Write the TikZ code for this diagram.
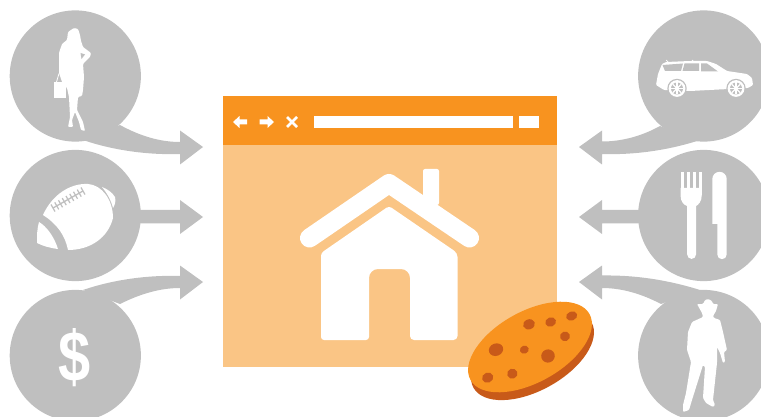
\documentclass[tikz,border=0pt]{standalone}
\usepackage{fontspec}
\usepackage{graphicx}
\setmainfont{Liberation Sans}
\definecolor{greyc}{HTML}{BFBFBF}
\definecolor{orangec}{HTML}{F8931F}
\definecolor{palec}{HTML}{FAC585}
\definecolor{darkc}{HTML}{C85A19}
\tikzset{
  greyfill/.style={fill=greyc,draw=none},
  icon/.style={fill=white,draw=none},
  softicon/.style={fill=white,draw=none,rounded corners=1pt},
  chip/.style={fill=darkc,draw=none},
}
\begin{document}
\begin{tikzpicture}[x=1pt,y=-1pt]
\useasboundingbox (0,0) rectangle (761,417);
\clip (0,0) rectangle (761,417);
% browser window
\fill[palec] (223,96) rectangle (557,367);
\fill[orangec] (223,96) rectangle (557,145);
\fill[icon] (233,122) -- (239.5,116) -- (239.5,119.5) -- (247,119.5) -- (247,124.5) -- (239.5,124.5) -- (239.5,128) -- cycle;
\fill[icon] (274,122) -- (267.5,116) -- (267.5,119.5) -- (259.5,119.5) -- (259.5,124.5) -- (267.5,124.5) -- (267.5,128) -- cycle;
\draw[white,line width=2.6pt] (287,117) -- (297,127) (297,117) -- (287,127);
\fill[icon] (314,116) rectangle (513,128);
\fill[icon] (519,116) rectangle (539,128);
% house
\fill[softicon,rounded corners=2pt] (423,205) -- (423,169) -- (439,169) -- (439,205) -- cycle;
\draw[white,line width=19pt,line cap=round,line join=round] (309.5,238) -- (389,183.5) -- (469.5,238);
\fill[icon,rounded corners=4pt] (389,206) -- (457.5,253) -- (457.5,340) -- (410,340) -- (410,285)
  [rounded corners=9pt] -- (410,269) -- (369,269) -- (369,285)
  [rounded corners=3pt] -- (369,340) -- (321,340) -- (321,253) -- cycle;
% grey balls with arrows
\fill[greyfill] (75.3,76) circle (65.6);
\fill[greyfill] (75.3,215.5) circle (65.6);
\fill[greyfill] (75.3,355.5) circle (65.6);
\fill[greyfill] (703.7,76) circle (65.6);
\fill[greyfill] (703.7,215.5) circle (65.6);
\fill[greyfill] (703.7,355.5) circle (65.6);
% left arrows
\fill[greyfill] (83,140) .. controls (115,151) and (150,155) .. (180,154) -- (180,164.5) -- (203,147) -- (180,130.5) -- (180,142)
  .. controls (160,142) and (140,136) .. (120,125) -- cycle;
\fill[greyfill] (135,210) -- (180,210) -- (180,200) -- (203,217) -- (180,234) -- (180,223.5) -- (135,223.5) -- cycle;
\fill[greyfill] (83,290) .. controls (115,279) and (150,275) .. (180,276) -- (180,265.5) -- (203,282) -- (180,299.5) -- (180,288)
  .. controls (160,288) and (140,294) .. (120,304) -- cycle;
% right arrows
\fill[greyfill] (697,141) .. controls (665,151) and (632,155) .. (602,154) -- (602,164.5) -- (579,147) -- (602,130.5) -- (602,141.5)
  .. controls (622,141.5) and (642,136) .. (660,126) -- cycle;
\fill[greyfill] (645,210) -- (602,210) -- (602,200) -- (579,217) -- (602,234) -- (602,223.5) -- (645,223.5) -- cycle;
\fill[greyfill] (700,290) .. controls (665,279) and (632,275) .. (602,275.5) -- (602,265.5) -- (579,282) -- (602,299.5) -- (602,288)
  .. controls (622,288) and (642,294) .. (661,304) -- cycle;
% woman
\fill[softicon] (74,28) -- (78,29) -- (80,35) -- (81,41) -- (83,47) -- (91,53) -- (90,57) -- (83,64) -- (84,77) -- (83,90) -- (82,96)
  -- (78,97) -- (77,110) -- (83,122) -- (85,131) -- (81,130) -- (79,122) -- (75,112) -- (72,120) -- (73,127) -- (68,127)
  -- (70,117) -- (69,97) -- (67,88) -- (62,82) -- (59,73) -- (59,53) -- (62,44) -- (67,40) -- (68,32) -- cycle;
\fill[icon] (54,82) rectangle (66,98);
\draw[white,line width=.8pt] (56.5,82) -- (59,73.5);
\fill[greyfill] (80.5,53) -- (85,54.5) -- (81.5,59) -- cycle;
% football
\fill[icon] (43,215) .. controls (52,195) and (70,183) .. (88,184) .. controls (102,185) and (113,200) .. (113,218)
  .. controls (108,238) and (90,250) .. (68,250) .. controls (65,235) and (57,224) .. (43,215) -- cycle;
\fill[icon] (102,187) .. controls (107,189) and (112,192) .. (115,197) .. controls (116,201) and (115,205) .. (113,208)
  .. controls (111,200) and (107,193) .. (102,187) -- cycle;
\fill[icon] (39,222) .. controls (46,226) and (54,236) .. (58,249) .. controls (50,248) and (43,246) .. (37,243) .. controls (37,235) and (37,229) .. (39,222) -- cycle;
\draw[greyc,line width=1.3pt] (53,208) -- (83,191);
\foreach \t in {0,0.125,...,1}{
  \draw[greyc,line width=1.2pt] ({53+30*\t-2},{208-17*\t-3.5}) -- ({53+30*\t+2},{208-17*\t+3.5});
}
% dollar
\node[text=white,font=\bfseries\fontsize{68}{68}\selectfont,inner sep=0pt] (dollar) at (75,358) {\scalebox{.85}[1.05]{\$}};
% car
\fill[softicon] (656,85) -- (658,74) -- (662,64) -- (666,62) -- (690,61) -- (707,61) -- (716,64) -- (727,71) -- (747,74) -- (752,78)
  -- (753,85) -- (748,88) -- (690,91) -- (664,90) -- cycle;
\draw[white,line width=.7pt] (666,60) -- (668,62) (692,60) -- (694,62);
\fill[greyfill] (662.5,65) -- (683,63.5) -- (681,71) -- (665,71) -- cycle;
\fill[greyfill] (684.5,63.5) -- (699,63.5) -- (699,71) -- (682.5,71) -- cycle;
\fill[greyfill] (701,63.5) -- (707,63.5) -- (718,71.5) -- (701,71.5) -- cycle;
\foreach \cx in {677,736}{
  \fill[greyfill] (\cx,88.5) circle (9.7);
  \fill[icon] (\cx,88.5) circle (8.4);
  \fill[greyfill] (\cx,88.5) circle (6);
  \fill[icon] (\cx,88.5) circle (2);
  \foreach \a in {0,45,...,315}{
    \draw[white,line width=1.3pt] (\cx,88.5) -- ++(\a:6);
  }
}
% cutlery
\foreach \tx in {680.5,686.5,692.5,698.5}{
  \fill[icon] (\tx,172) rectangle ++(3.3,20);
}
\fill[icon] (680.5,188) -- (701.8,188) -- (701.8,195) .. controls (701.8,202) and (698,205) .. (696,206)
  -- (696,254.5) arc[start angle=0,end angle=180,radius=4.4] -- (687.2,206) .. controls (684,205) and (680.5,202) .. (680.5,195) -- cycle;
\fill[icon] (712.3,224) -- (712.3,179) arc[start angle=180,end angle=360,radius=7.2] -- (726.7,254.5)
  arc[start angle=0,end angle=180,radius=4.7] -- (717.3,224) -- cycle;
% man
\fill[softicon] (697,304) -- (703,304) -- (705,300) -- (708,299) -- (712,301) -- (713,304) -- (718,304) -- (716,311) -- (713,316) -- (714,318) -- (720,320) -- (723,332)
  -- (727,350) -- (724,352) -- (725,362) -- (723,363) -- (720,353) -- (717,347) -- (717,363) -- (713,400) -- (715,405)
  -- (713,407) -- (706,403) -- (703,398) -- (705,367) -- (703,365) -- (692,400) -- (689,410) -- (683,412) -- (683,405)
  -- (686,393) -- (691,362) -- (687,350) -- (688,332) -- (692,322) -- (703,317) -- (702,313) -- cycle;
% cookie
\fill[darkc] (532.5,355) ellipse[x radius=67.5,y radius=35.5,rotate=29];
\fill[orangec] (530,347) ellipse[x radius=68,y radius=35.5,rotate=29];
\foreach \x/\y/\rx/\ry in {687/283/6/5,752/276/5.5/4.6,815/258/5.7/4.5,795/319/5/4.8,588/359/7.3/6.2,673/359/4.5/4,744/378/6.8/6.6,563/443/5.7/5,637/431/5.2/5}{
  \fill[chip] ({300+\x/3},{230+\y/3}) ellipse[x radius=\rx,y radius=\ry,rotate=20];
}
\end{tikzpicture}
\end{document}
